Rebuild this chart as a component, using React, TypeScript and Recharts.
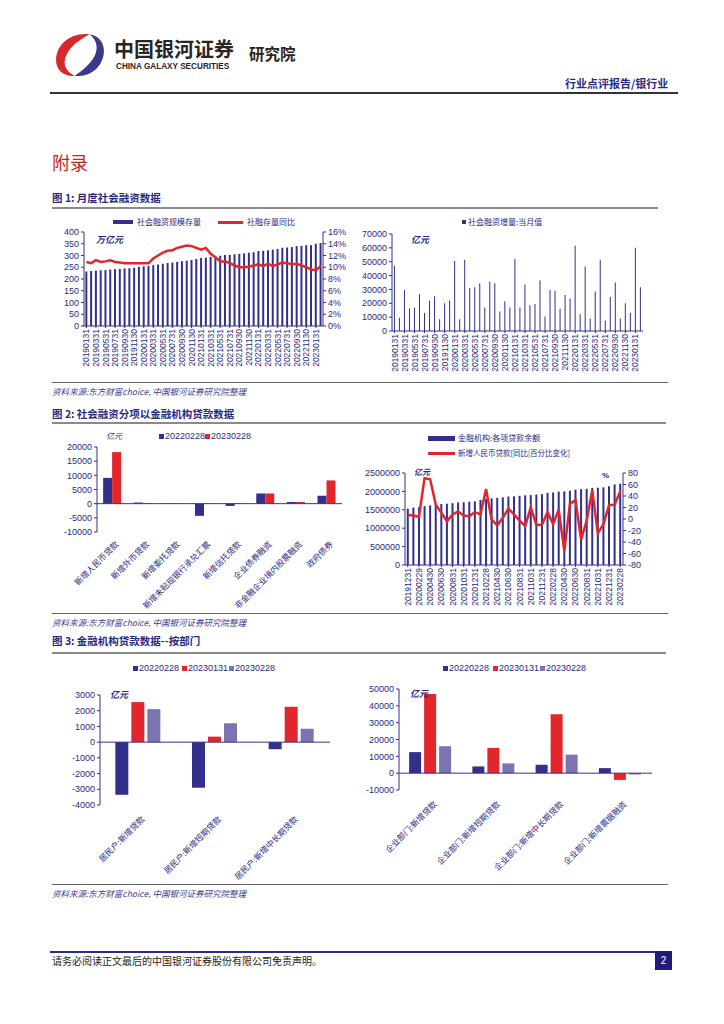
import React from "react";
import { ComposedChart, BarChart, Bar, Line, XAxis, YAxis, ReferenceLine } from "recharts";

const NAVY = "#33308c";
const RED = "#e2262c";
const LILAC = "#7c74b1";
const TEXT = "#2b2a82";
const NUM_FONT = "'Liberation Sans', Arial, sans-serif";
const CJK_FONT = "'Noto Sans CJK SC', sans-serif";

// 图1: 月度社会融资数据
const tsfMonths = [
  "20190131", "20190228", "20190331", "20190430", "20190531", "20190630",
  "20190731", "20190831", "20190930", "20191031", "20191130", "20191231",
  "20200131", "20200229", "20200331", "20200430", "20200531", "20200630",
  "20200731", "20200831", "20200930", "20201031", "20201130", "20201231",
  "20210131", "20210228", "20210331", "20210430", "20210531", "20210630",
  "20210731", "20210831", "20210930", "20211031", "20211130", "20211231",
  "20220131", "20220228", "20220331", "20220430", "20220531", "20220630",
  "20220731", "20220831", "20220930", "20221031", "20221130", "20221231",
  "20230131", "20230228",
];
const tsfStock = [
  232, 234, 236, 237, 238, 240, 242, 243, 245, 246, 248, 251,
  254, 255, 259, 262, 265, 268, 270, 273, 276, 278, 281, 285,
  289, 291, 294, 296, 299, 302, 303, 305, 307, 309, 312, 314,
  319, 320, 322, 325, 328, 333, 334, 336, 340, 341, 344, 344,
  350, 353,
];
const tsfStockYoY = [
  10.9, 10.7, 11.2, 10.9, 11.0, 11.2, 10.9, 10.8, 10.7, 10.7, 10.7, 10.7,
  10.7, 10.7, 11.5, 12.0, 12.5, 12.8, 12.9, 13.3, 13.5, 13.7, 13.6, 13.3,
  13.0, 13.3, 12.3, 11.7, 11.0, 11.0, 10.7, 10.3, 10.0, 10.0, 10.1, 10.3,
  10.5, 10.2, 10.6, 10.2, 10.5, 10.8, 10.7, 10.5, 10.6, 10.3, 10.0, 9.6,
  9.5, 10.2,
];
const tsfFlow = [
  47000, 9500, 29500, 16500, 17000, 26500, 13000, 22000, 25000, 8500, 20000, 22000,
  50500, 8500, 51500, 31000, 31500, 34500, 17000, 35500, 34500, 14000, 21500, 17000,
  52000, 17000, 33500, 18500, 19500, 36500, 10500, 29500, 29000, 16000, 26000, 23500,
  61500, 12000, 46500, 9000, 28500, 51500, 7500, 24500, 35000, 9000, 20000, 13000,
  60000, 31500,
];
const stockTicks = [0, 50, 100, 150, 200, 250, 300, 350, 400];
const yoyTicks = [0, 2, 4, 6, 8, 10, 12, 14, 16];
const flowTicks = [0, 10000, 20000, 30000, 40000, 50000, 60000, 70000];

// 图2: 社会融资分项以金融机构贷款数据
const tsfItems = [
  "新增人民币贷款", "新增外币贷款", "新增委托贷款", "新增未贴现银行承兑汇票",
  "新增信托贷款", "企业债券融资", "非金融企业境内股票融资", "政府债券",
];
const tsfItems2022 = [9100, 400, -100, -4300, -800, 3600, 600, 2800];
const tsfItems2023 = [18200, 200, -50, 50, -100, 3600, 600, 8200];
const itemTicks = [-10000, -5000, 0, 5000, 10000, 15000, 20000];

const loanMonths = tsfMonths.slice(11);
const loanBalance = [
  1530000,
  1560000, 1570000, 1600000, 1620000, 1640000, 1660000, 1665000, 1680000, 1700000, 1705000, 1720000, 1730000,
  1770000, 1790000, 1810000, 1825000, 1840000, 1860000, 1865000, 1880000, 1895000, 1900000, 1915000, 1925000,
  1960000, 1970000, 1995000, 2000000, 2020000, 2050000, 2060000, 2070000, 2095000, 2100000, 2110000, 2140000,
  2190000, 2210000,
];
const newLoanYoY = [
  7,
  6, 4, 71, 69, 25, 11, -4, 8, 13, 6, 5, 12,
  8, 52, -1, -11, 2, 18, 8, -3, -12, 20, -10, -10,
  12, -9, 16, -56, 26, 33, -36, -3, 50, -25, -9, 24,
  25, 48,
];
const balanceTicks = [0, 500000, 1000000, 1500000, 2000000, 2500000];
const changeTicks = [-80, -60, -40, -20, 0, 20, 40, 60, 80];

// 图3: 金融机构贷款数据--按部门
const householdItems = ["居民户:新增贷款", "居民户:新增短期贷款", "居民户:新增中长期贷款"];
const household2202 = [-3350, -2900, -450];
const household2301 = [2550, 350, 2250];
const household2302 = [2100, 1200, 850];
const householdTicks = [-4000, -3000, -2000, -1000, 0, 1000, 2000, 3000];

const corpItems = ["企业部门:新增贷款", "企业部门:新增短期贷款", "企业部门:新增中长期贷款", "企业部门:新增票据融资"];
const corp2202 = [12500, 4000, 5000, 3000];
const corp2301 = [47000, 15000, 35000, -4000];
const corp2302 = [16000, 5800, 11000, -800];
const corpTicks = [-10000, 0, 10000, 20000, 30000, 40000, 50000];

const tsfData = tsfMonths.map((m, i) => ({ m, stock: tsfStock[i], yoy: tsfStockYoY[i], flow: tsfFlow[i] }));
const itemData = tsfItems.map((name, i) => ({ name, a: tsfItems2022[i], b: tsfItems2023[i] }));
const loanData = loanMonths.map((m, i) => ({ m, bal: loanBalance[i], chg: newLoanYoY[i] }));
const householdData = householdItems.map((name, i) => ({ name, a: household2202[i], b: household2301[i], c: household2302[i] }));
const corpData = corpItems.map((name, i) => ({ name, a: corp2202[i], b: corp2301[i], c: corp2302[i] }));

const yTick = { fontSize: 9, fill: TEXT, fontFamily: NUM_FONT };

const DateTick = (props: any) => {
  const { x, y, payload } = props;
  return (
    <text
      x={x}
      y={y}
      transform={`rotate(-90 ${x} ${y})`}
      textAnchor="end"
      dominantBaseline="central"
      fontSize={8.5}
      fill={TEXT}
      fontFamily={NUM_FONT}
    >
      {payload.value}
    </text>
  );
};

const SlantTick = (props: any) => {
  const { x, y, payload } = props;
  return (
    <text
      x={x + 4}
      y={y}
      transform={`rotate(-45 ${x + 4} ${y})`}
      textAnchor="end"
      dominantBaseline="central"
      fontSize={8.3}
      fill={TEXT}
      fontFamily={CJK_FONT}
    >
      {payload.value}
    </text>
  );
};

const Txt = ({ x, y, size = 9, color = TEXT, bold = false, italic = false, font = CJK_FONT, children }: any) => (
  <div
    style={{
      position: "absolute",
      left: x,
      top: y,
      fontSize: size,
      lineHeight: 1,
      color,
      fontWeight: bold ? 700 : 400,
      fontStyle: italic ? "italic" : "normal",
      fontFamily: font,
      whiteSpace: "nowrap",
    }}
  >
    {children}
  </div>
);

const HLine = ({ x, y, w, h = 1, color = "#666" }: any) => (
  <div style={{ position: "absolute", left: x, top: y, width: w, height: h, background: color }} />
);

const Swatch = ({ x, y, w = 5, h = 5, color }: any) => (
  <div style={{ position: "absolute", left: x, top: y, width: w, height: h, background: color }} />
);

const Logo = () => (
  <svg style={{ position: "absolute", left: 54, top: 32 }} width="52" height="46" viewBox="0 0 50 44">
    <path d="M34 2 C16 0 2 12 2 27 C2 37 10 43 20 42 C11 38 8 30 12 22 C16 13 25 7 34 2 Z" fill="#d8282c" />
    <path d="M20 42 C36 44 48 32 48 18 C48 9 42 3 34 2 C41 7 43 15 39 23 C35 31 27 37 20 42 Z" fill="#3a3a8c" />
  </svg>
);

function TsfStockChart() {
  return (
    <div style={{ position: "absolute", left: 50, top: 228 }}>
      <ComposedChart width={300} height={150} data={tsfData} margin={{ top: 4, right: 0, bottom: 0, left: 0 }} barCategoryGap="28%">
        <XAxis dataKey="m" interval={1} height={52} tick={<DateTick />} tickSize={2} tickMargin={1} stroke={NAVY} />
        <YAxis yAxisId="l" width={34} domain={[0, 400]} ticks={stockTicks} interval={0} tick={yTick} tickSize={3} stroke={NAVY} />
        <YAxis
          yAxisId="r"
          orientation="right"
          width={27}
          domain={[0, 16]}
          ticks={yoyTicks}
          interval={0}
          tick={yTick}
          tickSize={3}
          stroke={NAVY}
          tickFormatter={(v: number) => `${v}%`}
        />
        <Bar yAxisId="l" dataKey="stock" fill={NAVY} isAnimationActive={false} />
        <Line yAxisId="r" dataKey="yoy" stroke={RED} strokeWidth={2.5} dot={false} type="linear" isAnimationActive={false} />
      </ComposedChart>
    </div>
  );
}

function TsfFlowChart() {
  return (
    <div style={{ position: "absolute", left: 350, top: 230 }}>
      <BarChart width={300} height={150} data={tsfData} margin={{ top: 4, right: 7, bottom: 0, left: 0 }} barCategoryGap="38%">
        <XAxis dataKey="m" interval={1} height={49} tick={<DateTick />} tickSize={2} tickMargin={1} stroke={NAVY} />
        <YAxis width={42} domain={[0, 70000]} ticks={flowTicks} interval={0} tick={yTick} tickSize={3} stroke={NAVY} />
        <Bar dataKey="flow" fill={NAVY} isAnimationActive={false} />
      </BarChart>
    </div>
  );
}

function TsfItemChart() {
  return (
    <div style={{ position: "absolute", left: 55, top: 440 }}>
      <BarChart width={295} height={170} data={itemData} margin={{ top: 7, right: 8, bottom: 0, left: 0 }} barCategoryGap="20%" barGap={0}>
        <XAxis dataKey="name" interval={0} height={78} axisLine={false} tickLine={false} tick={<SlantTick />} tickMargin={4} />
        <YAxis width={42} domain={[-10000, 20000]} ticks={itemTicks} interval={0} tick={yTick} tickSize={3} stroke={NAVY} />
        <ReferenceLine y={0} stroke={NAVY} strokeWidth={1} />
        <Bar dataKey="a" fill={NAVY} isAnimationActive={false} />
        <Bar dataKey="b" fill={RED} isAnimationActive={false} />
      </BarChart>
    </div>
  );
}

function LoanChart() {
  return (
    <div style={{ position: "absolute", left: 355, top: 466 }}>
      <ComposedChart width={295} height={142} data={loanData} margin={{ top: 7, right: 0, bottom: 0, left: 0 }} barCategoryGap="32%">
        <XAxis dataKey="m" interval={1} height={43} tick={<DateTick />} tickSize={2} tickMargin={1} stroke={NAVY} />
        <YAxis yAxisId="l" width={50} domain={[0, 2500000]} ticks={balanceTicks} interval={0} tick={yTick} tickSize={3} stroke={NAVY} />
        <YAxis yAxisId="r" orientation="right" width={27} domain={[-80, 80]} ticks={changeTicks} interval={0} tick={yTick} tickSize={3} stroke={NAVY} />
        <Bar yAxisId="l" dataKey="bal" fill={NAVY} isAnimationActive={false} />
        <Line yAxisId="r" dataKey="chg" stroke={RED} strokeWidth={2.5} dot={false} type="linear" isAnimationActive={false} />
      </ComposedChart>
    </div>
  );
}

function HouseholdChart() {
  return (
    <div style={{ position: "absolute", left: 55, top: 688 }}>
      <BarChart width={290} height={192} data={householdData} margin={{ top: 7, right: 15, bottom: 0, left: 0 }} barCategoryGap="20%" barGap={3}>
        <XAxis dataKey="name" interval={0} height={75} axisLine={false} tickLine={false} tick={<SlantTick />} tickMargin={6} />
        <YAxis width={45} domain={[-4000, 3000]} ticks={householdTicks} interval={0} tick={yTick} tickSize={3} stroke={NAVY} />
        <ReferenceLine y={0} stroke={NAVY} strokeWidth={1} />
        <Bar dataKey="a" fill={NAVY} isAnimationActive={false} />
        <Bar dataKey="b" fill={RED} isAnimationActive={false} />
        <Bar dataKey="c" fill={LILAC} isAnimationActive={false} />
      </BarChart>
    </div>
  );
}

function CorpChart() {
  return (
    <div style={{ position: "absolute", left: 350, top: 682 }}>
      <BarChart width={310} height={198} data={corpData} margin={{ top: 7, right: 8, bottom: 0, left: 0 }} barCategoryGap="16%" barGap={3}>
        <XAxis dataKey="name" interval={0} height={90} axisLine={false} tickLine={false} tick={<SlantTick />} tickMargin={6} />
        <YAxis width={49} domain={[-10000, 50000]} ticks={corpTicks} interval={0} tick={yTick} tickSize={3} stroke={NAVY} />
        <ReferenceLine y={0} stroke={NAVY} strokeWidth={1} />
        <Bar dataKey="a" fill={NAVY} isAnimationActive={false} />
        <Bar dataKey="b" fill={RED} isAnimationActive={false} />
        <Bar dataKey="c" fill={LILAC} isAnimationActive={false} />
      </BarChart>
    </div>
  );
}

const SOURCE = "资料来源:东方财富choice, 中国银河证券研究院整理";

export default function App() {
  return (
    <div style={{ position: "absolute", left: 0, top: 0, width: 724, height: 1024, background: "#fff", overflow: "hidden" }}>
      {/* header */}
      <Logo />
      <Txt x={114} y={39} size={20} bold color="#2a2424">中国银河证券</Txt>
      <Txt x={116} y={63} size={8.2} bold color="#2a2424" font={NUM_FONT}>CHINA GALAXY SECURITIES</Txt>
      <Txt x={249} y={46} size={15.5} bold color="#2a2424">研究院</Txt>
      <Txt x={565} y={78} size={11} bold color={TEXT}>行业点评报告/银行业</Txt>
      <HLine x={50} y={92} w={628} h={2} color="#333" />

      <Txt x={52} y={153} size={18} color="#d01e22">附录</Txt>

      {/* figure 1 */}
      <Txt x={52} y={193} size={10.5} bold color={TEXT}>图 1: 月度社会融资数据</Txt>
      <HLine x={52} y={207} w={606} h={1.5} color="#8a8a8a" />
      <Swatch x={113} y={220} w={20} h={4} color={NAVY} />
      <Txt x={137} y={218} size={8}>社会融资规模存量</Txt>
      <Swatch x={218} y={221} w={25} h={2.5} color={RED} />
      <Txt x={247} y={218} size={8}>社融存量同比</Txt>
      <Swatch x={462} y={220} w={4} h={4} color={NAVY} />
      <Txt x={468} y={218} size={8}>社会融资增量:当月值</Txt>
      <TsfStockChart />
      <TsfFlowChart />
      <Txt x={96} y={235} size={9} bold italic>万亿元</Txt>
      <Txt x={411} y={235} size={9} bold italic>亿元</Txt>
      <HLine x={52} y={382} w={616} h={1.2} color="#666" />
      <Txt x={52} y={387} size={8.5} italic color="#3b3b94">{SOURCE}</Txt>

      {/* figure 2 */}
      <Txt x={52} y={409} size={10.5} bold color={TEXT}>图 2: 社会融资分项以金融机构贷款数据</Txt>
      <HLine x={52} y={422} w={614} h={1.5} color="#8a8a8a" />
      <Txt x={106} y={432} size={8} italic>亿元</Txt>
      <Swatch x={159} y={434} w={5} h={5} color={NAVY} />
      <Txt x={165} y={432} size={9} font={NUM_FONT}>20220228</Txt>
      <Swatch x={205} y={434} w={5} h={5} color={RED} />
      <Txt x={211} y={432} size={9} font={NUM_FONT}>20230228</Txt>
      <Swatch x={428} y={436} w={27} h={5} color={NAVY} />
      <Txt x={458} y={434} size={8}>金融机构:各项贷款余额</Txt>
      <Swatch x={428} y={452} w={27} h={2.5} color={RED} />
      <Txt x={458} y={449} size={7.5}>新增人民币贷款[同比|百分比变化]</Txt>
      <TsfItemChart />
      <LoanChart />
      <Txt x={414} y={468} size={8} bold italic>亿元</Txt>
      <Txt x={602} y={472} size={8} bold font={NUM_FONT}>%</Txt>
      <HLine x={52} y={613} w={616} h={1.2} color="#666" />
      <Txt x={52} y={618} size={8.5} italic color="#3b3b94">{SOURCE}</Txt>

      {/* figure 3 */}
      <Txt x={52} y={636} size={10.5} bold color={TEXT}>图 3: 金融机构贷款数据--按部门</Txt>
      <HLine x={52} y={652} w={614} h={1.5} color="#8a8a8a" />
      <Swatch x={133} y={666} w={5} h={5} color={NAVY} />
      <Txt x={139} y={664} size={9} font={NUM_FONT}>20220228</Txt>
      <Swatch x={182} y={666} w={5} h={5} color={RED} />
      <Txt x={188} y={664} size={9} font={NUM_FONT}>20230131</Txt>
      <Swatch x={229} y={666} w={5} h={5} color={LILAC} />
      <Txt x={235} y={664} size={9} font={NUM_FONT}>20230228</Txt>
      <Swatch x={443} y={666} w={5} h={5} color={NAVY} />
      <Txt x={449} y={664} size={9} font={NUM_FONT}>20220228</Txt>
      <Swatch x={493} y={666} w={5} h={5} color={RED} />
      <Txt x={499} y={664} size={9} font={NUM_FONT}>20230131</Txt>
      <Swatch x={540} y={666} w={5} h={5} color={LILAC} />
      <Txt x={546} y={664} size={9} font={NUM_FONT}>20230228</Txt>
      <HouseholdChart />
      <CorpChart />
      <Txt x={110} y={690} size={9} bold italic>亿元</Txt>
      <Txt x={410} y={689} size={9} bold italic>亿元</Txt>
      <HLine x={52} y={884} w={616} h={1.2} color="#666" />
      <Txt x={52} y={889} size={8.5} italic color="#3b3b94">{SOURCE}</Txt>

      {/* footer */}
      <HLine x={50} y={951} w={622} h={1.5} color="#2b2a8a" />
      <Txt x={52} y={956} size={10} color="#222">请务必阅读正文最后的中国银河证券股份有限公司免责声明。</Txt>
      <div
        style={{
          position: "absolute",
          left: 655,
          top: 951,
          width: 17,
          height: 19,
          background: "#1f1c7a",
          color: "#fff",
          fontSize: 10,
          fontFamily: NUM_FONT,
          lineHeight: "19px",
          textAlign: "center",
        }}
      >
        2
      </div>
    </div>
  );
}
